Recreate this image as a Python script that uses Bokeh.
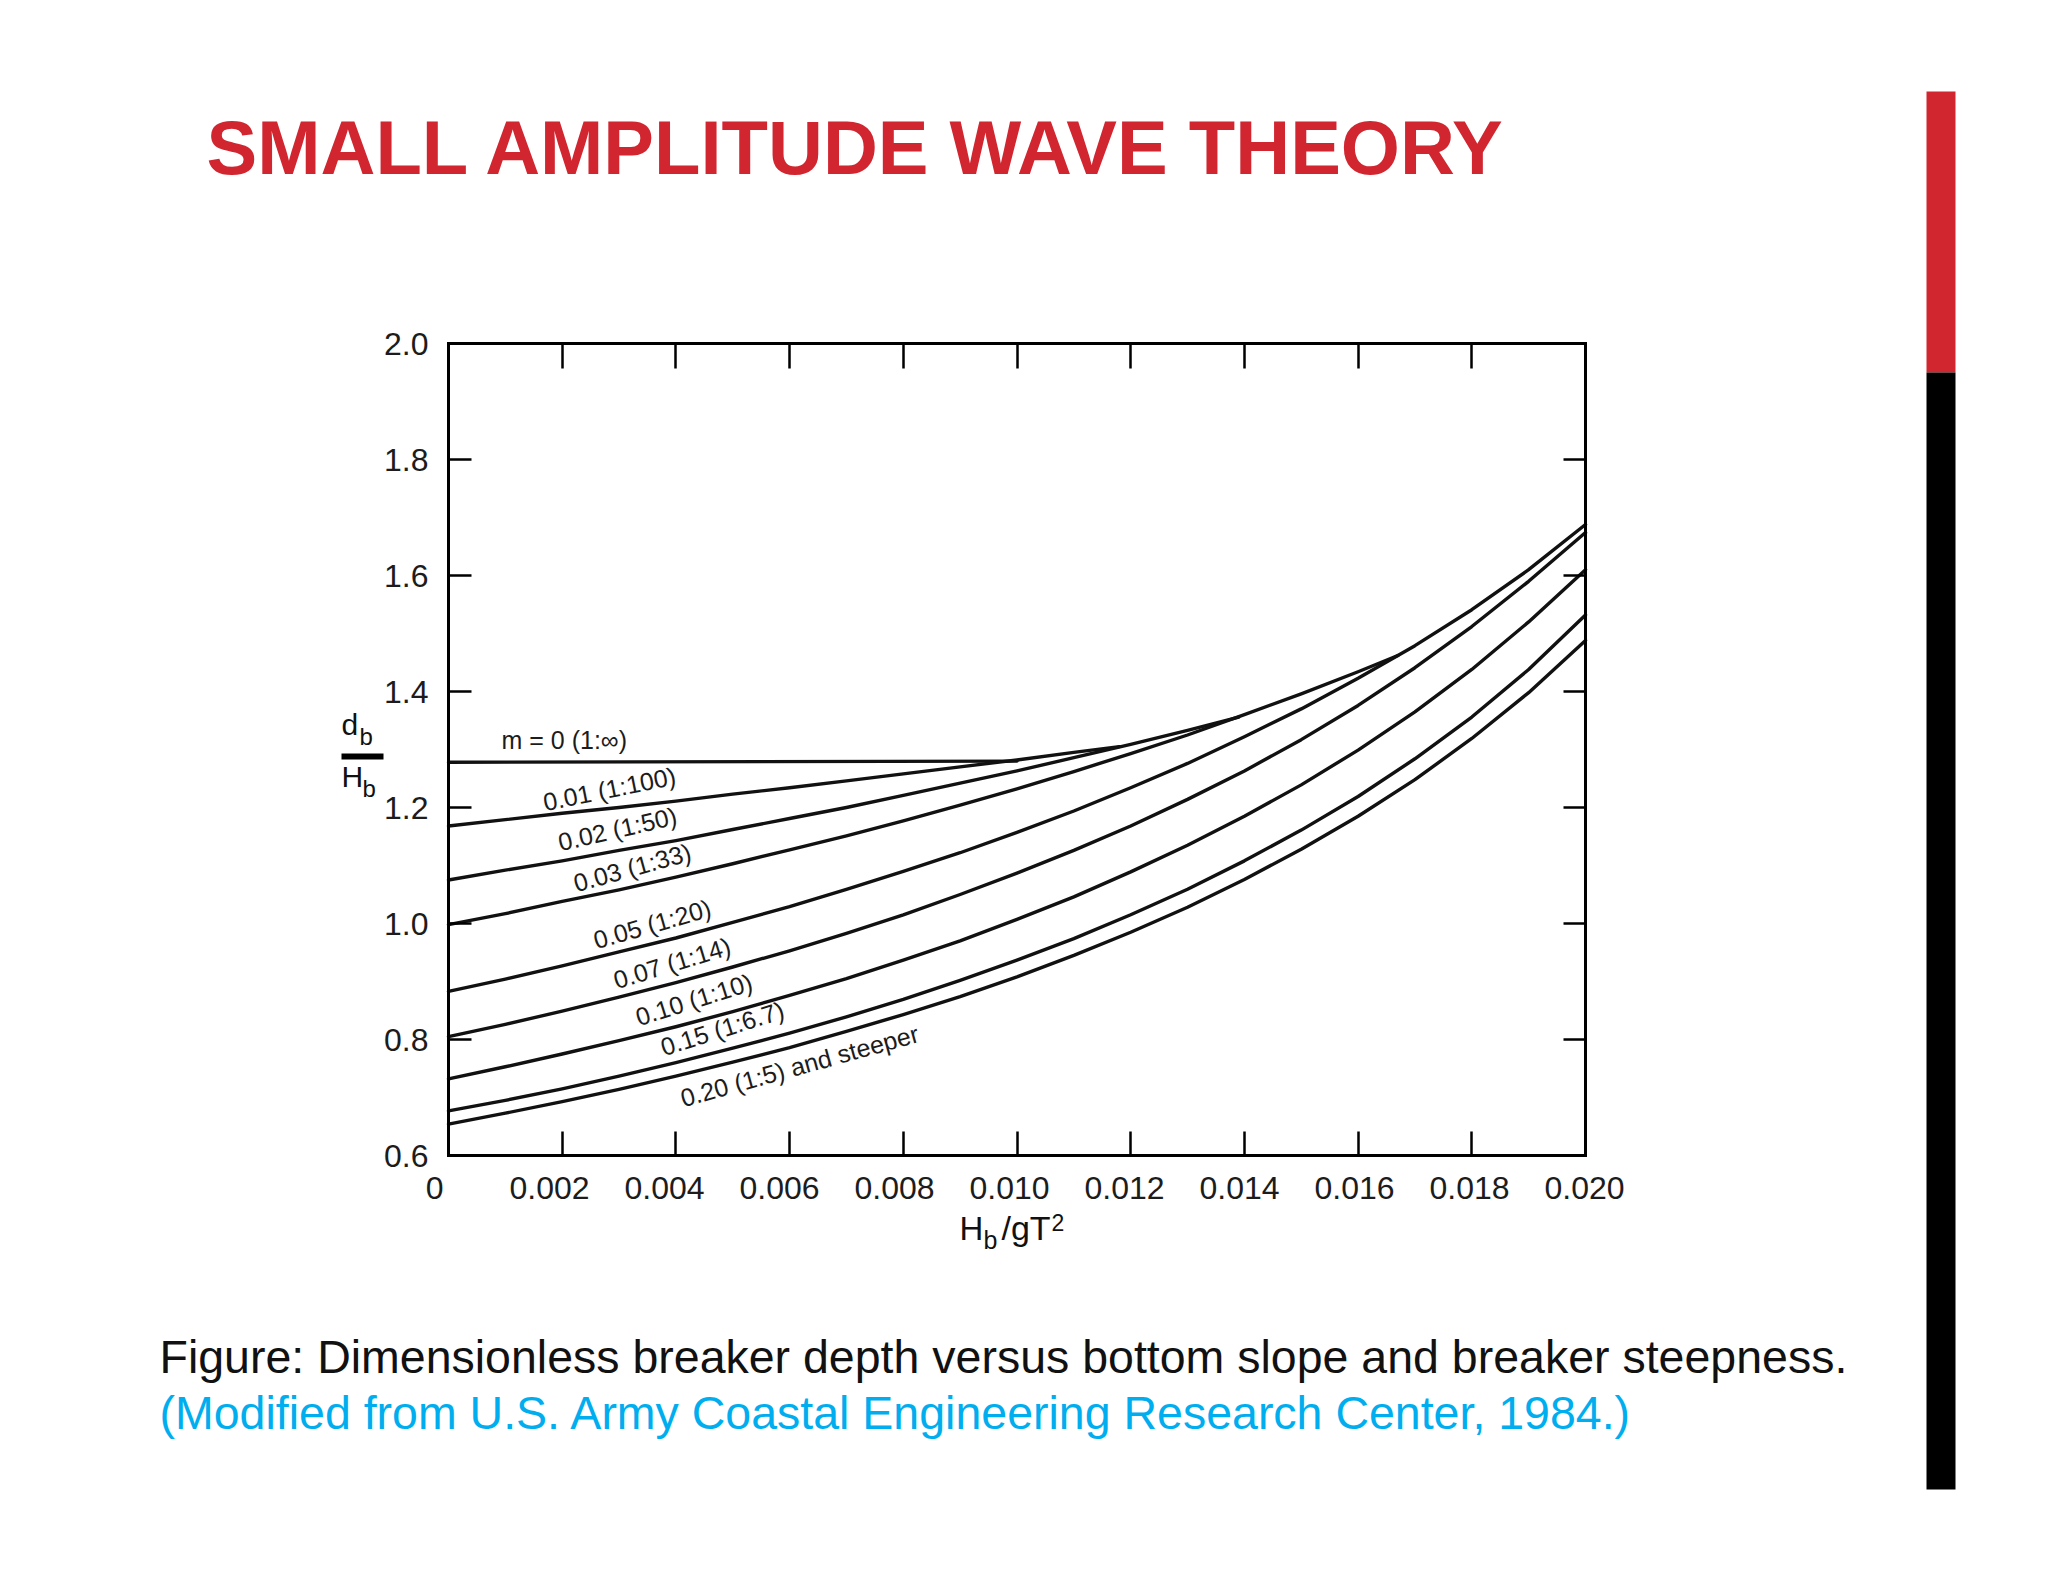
import math
from bokeh.plotting import figure
from bokeh.models import Range1d, FixedTicker, LinearAxis, Label, BoxAnnotation
from bokeh.embed import file_html
from bokeh.resources import INLINE

# ---------------- data ----------------
x_ticks = [0.0, 0.002, 0.004, 0.006, 0.008, 0.010, 0.012, 0.014, 0.016, 0.018, 0.020]
x_tick_labels = ["0", "0.002", "0.004", "0.006", "0.008", "0.010", "0.012", "0.014", "0.016", "0.018", "0.020"]
y_ticks = [0.6, 0.8, 1.0, 1.2, 1.4, 1.6, 1.8, 2.0]
y_tick_labels = ["0.6", "0.8", "1.0", "1.2", "1.4", "1.6", "1.8", "2.0"]

hb_grid = [0.000, 0.001, 0.002, 0.003, 0.004, 0.005, 0.006, 0.007, 0.008, 0.009, 0.010,
           0.011, 0.012, 0.013, 0.014, 0.015, 0.016, 0.017, 0.018, 0.019, 0.020]

hb_m000 = [0.000, 0.010]
db_m000 = [1.278, 1.280]

hb_m001 = [0.000, 0.001, 0.002, 0.003, 0.004, 0.005, 0.006, 0.007, 0.008, 0.009, 0.010, 0.011, 0.0118]
db_m001 = [1.168, 1.179, 1.190, 1.200, 1.211, 1.223, 1.234, 1.246, 1.258, 1.270, 1.282, 1.295, 1.305]

hb_m002 = [0.000, 0.001, 0.002, 0.003, 0.004, 0.005, 0.006, 0.007, 0.008, 0.009, 0.010, 0.011, 0.012, 0.013, 0.0139]
db_m002 = [1.075, 1.092, 1.108, 1.126, 1.143, 1.162, 1.181, 1.200, 1.221, 1.242, 1.263, 1.286, 1.309, 1.333, 1.356]

hb_m003 = [0.000, 0.001, 0.002, 0.003, 0.004, 0.005, 0.006, 0.007, 0.008, 0.009, 0.010, 0.011, 0.012,
           0.013, 0.014, 0.015, 0.016, 0.0167]
db_m003 = [0.998, 1.017, 1.038, 1.058, 1.080, 1.103, 1.127, 1.151, 1.177, 1.204, 1.232, 1.262, 1.293,
           1.325, 1.360, 1.396, 1.434, 1.462]

db_m005 = [0.883, 0.904, 0.927, 0.951, 0.975, 1.002, 1.029, 1.059, 1.090, 1.122, 1.157,
           1.194, 1.234, 1.276, 1.322, 1.370, 1.423, 1.479, 1.541, 1.610, 1.688]
db_m007 = [0.805, 0.826, 0.849, 0.873, 0.898, 0.925, 0.953, 0.983, 1.015, 1.050, 1.087,
           1.126, 1.168, 1.214, 1.263, 1.317, 1.376, 1.441, 1.512, 1.590, 1.674]
db_m010 = [0.732, 0.753, 0.775, 0.798, 0.822, 0.848, 0.876, 0.905, 0.937, 0.970, 1.007,
           1.046, 1.089, 1.135, 1.185, 1.239, 1.299, 1.365, 1.438, 1.520, 1.610]
db_m015 = [0.677, 0.695, 0.715, 0.737, 0.760, 0.785, 0.811, 0.839, 0.869, 0.902, 0.937,
           0.974, 1.015, 1.059, 1.108, 1.161, 1.219, 1.284, 1.356, 1.438, 1.532]
db_m020 = [0.654, 0.673, 0.693, 0.714, 0.737, 0.761, 0.786, 0.814, 0.843, 0.874, 0.908,
           0.945, 0.985, 1.028, 1.076, 1.128, 1.185, 1.248, 1.319, 1.398, 1.488]

curves = [
    (hb_m000, db_m000), (hb_m001, db_m001), (hb_m002, db_m002), (hb_m003, db_m003),
    (hb_grid, db_m005), (hb_grid, db_m007), (hb_grid, db_m010), (hb_grid, db_m015), (hb_grid, db_m020),
]

curve_names = ["m = 0 (1:\u221e)", "0.01 (1:100)", "0.02 (1:50)", "0.03 (1:33)", "0.05 (1:20)",
               "0.07 (1:14)", "0.10 (1:10)", "0.15 (1:6.7)", "0.20 (1:5) and steeper"]

title_text = "SMALL AMPLITUDE WAVE THEORY"
caption_1 = "Figure: Dimensionless breaker depth versus bottom slope and breaker steepness."
caption_2 = "(Modified from U.S. Army Coastal Engineering Research Center, 1984.)"

# ---------------- layout (page pixels) ----------------
W, H = 2040, 1576
FL, FR, FT, FB = 448, 1585, 343, 1155          # chart box edges in page pixels
X0, X1, Y0, Y1 = 0.0, 0.02, 0.6, 2.0
BASE_K = 0.37                                   # anchor-to-baseline correction (em)
LAB_L, LAB_STEP = 434.1, 115.0                  # x tick labels sit slightly left of the ticks


def dx(px):
    return X0 + (px - FL) / (FR - FL) * (X1 - X0)


def dy(py):
    return Y1 - (py - FT) / (FB - FT) * (Y1 - Y0)


FONT = "Liberation Sans"

p = figure(width=W, height=H, title=None,
           x_range=Range1d(dx(0), dx(W)), y_range=Range1d(dy(H), dy(0)),
           output_backend="svg", toolbar_location=None,
           x_axis_location=None, y_axis_location=None, min_border=0)
p.extra_x_ranges = {"xlab": Range1d(-LAB_L / LAB_STEP * 0.002, (W - LAB_L) / LAB_STEP * 0.002)}
p.grid.grid_line_color = None
p.background_fill_color = "white"
p.border_fill_color = "white"
p.outline_line_color = None


def make_axis(ticks, labels, tick_in, loc, bounds, show_labels, standoff=18, show_line=True, **kw):
    ax = LinearAxis(ticker=FixedTicker(ticks=ticks), fixed_location=loc, bounds=bounds, **kw)
    if show_labels:
        ax.major_label_overrides = {t: l for t, l in zip(ticks, labels)}
        ax.major_label_text_font = FONT
        ax.major_label_text_font_size = "32px"
        ax.major_label_text_color = "#1c1c1c"
        ax.major_label_standoff = standoff
    else:
        ax.major_label_overrides = {t: "" for t in ticks}
        ax.major_label_text_font_size = "1px"
        ax.major_label_standoff = 0
    if show_line:
        ax.axis_line_color = "black"
        ax.axis_line_width = 3
        ax.axis_line_cap = "square"
        ax.major_tick_in = tick_in
        ax.major_tick_out = 0
        ax.major_tick_line_width = 2.5
        ax.major_tick_line_color = "black"
    else:
        ax.axis_line_color = None
        ax.major_tick_line_color = None
        ax.major_tick_in = 0
        ax.major_tick_out = 0
    ax.minor_tick_line_color = None
    return ax


p.add_layout(make_axis(y_ticks, y_tick_labels, 23, X0, (Y0, Y1), True, 20), "left")
p.add_layout(make_axis(x_ticks, x_tick_labels, 24, Y0, (X0, X1), False), "below")
p.add_layout(make_axis(x_ticks, x_tick_labels, 0, Y0, (X0, X1), True, 21, show_line=False,
                       x_range_name="xlab"), "below")
p.add_layout(make_axis(x_ticks, x_tick_labels, 25, Y1, (X0, X1), False), "above")
p.add_layout(make_axis(y_ticks, y_tick_labels, 22, X1, (Y0, Y1), False), "right")

for xs, ys in curves:
    p.line(xs, ys, line_width=3.4, line_color="#111111", line_join="round", line_cap="round")


def add_text(px, py, text, size, color="#111111", style="normal", ang=0.0):
    """px, py: wanted left end of the text baseline, in page pixels."""
    a = math.radians(ang)
    k = BASE_K * size
    ax_ = px + k * math.sin(a)
    ay_ = py - k * math.cos(a)
    p.add_layout(Label(x=dx(ax_), y=dy(ay_), text=text, text_font=FONT, text_font_size=f"{size}px",
                       text_font_style=style, text_color=color,
                       text_baseline="alphabetic", text_align="left", angle=a))


# curve labels: (left px, baseline px, angle deg)
label_pos = [(501, 749, 0), (541, 811, 11.5), (556, 851, 13), (571, 892, 15.5), (591, 949, 16),
             (611, 989, 17), (633, 1026, 17.5), (658, 1056, 17.5), (678, 1107, 15.5)]
for name, (px, py, ang) in zip(curve_names, label_pos):
    add_text(px, py, name, 25, "#1c1c1c", ang=ang)

# y-axis title  d_b / H_b
add_text(341, 735, "d", 30)
add_text(359, 745, "b", 24)
add_text(341, 787, "H", 30)
add_text(362, 797, "b", 24)
p.add_layout(BoxAnnotation(left=dx(341), right=dx(383), top=dy(753), bottom=dy(759),
                           fill_color="black", fill_alpha=1.0, line_color=None))

# x-axis title  H_b /gT^2
add_text(959, 1240, "H", 33)
add_text(983, 1249, "b", 25)
add_text(1001, 1240, "/gT", 34)
add_text(1051, 1231, "2", 23)

# slide title and caption
add_text(206, 175, title_text, 76, "#D12630", "bold")
add_text(159, 1374, caption_1, 46.5, "#111111")
add_text(159, 1430, caption_2, 46.5, "#00AEEF")

# side bar (red / black)
p.add_layout(BoxAnnotation(left=dx(1926), right=dx(1955), top=dy(91), bottom=dy(372),
                           fill_color="#D12630", fill_alpha=1.0, line_color=None))
p.add_layout(BoxAnnotation(left=dx(1926), right=dx(1955), top=dy(372), bottom=dy(1489),
                           fill_color="black", fill_alpha=1.0, line_color=None))

open("out.html", "w").write(file_html(p, INLINE))
